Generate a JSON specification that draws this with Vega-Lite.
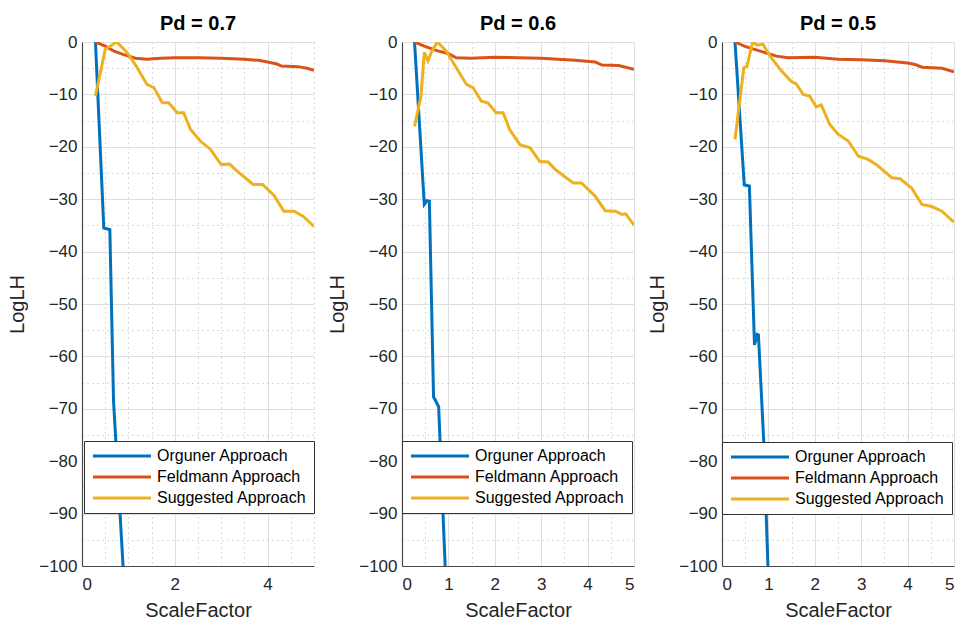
{
  "$schema": "https://vega.github.io/schema/vega-lite/v6.json",
  "padding": {"left": 7, "top": 14, "right": 0, "bottom": 0},
  "background": "white",
  "config": {
    "font": "Liberation Sans",
    "view": {"stroke": null},
    "title": {"fontSize": 20, "fontWeight": "bold", "color": "#000000", "offset": -1},
    "axis": {
      "labelFont": "Liberation Sans", "titleFont": "Liberation Sans",
      "labelFontSize": 17, "titleFontSize": 20, "titleFontWeight": "normal",
      "labelColor": "#262626", "titleColor": "#262626",
      "domainColor": "#4a4a4a", "domainWidth": 1.2,
      "ticks": false, "tickSize": 0, "gridColor": "#dedede", "gridWidth": 1
    },
    "legend": {"labelFont": "Liberation Sans"}
  },
  "datasets": {
    "d": [
      {"pd": "0.7", "m": "Orguner Approach", "x": 0.29, "y": 0},
      {"pd": "0.7", "m": "Orguner Approach", "x": 0.47, "y": -35.5},
      {"pd": "0.7", "m": "Orguner Approach", "x": 0.6, "y": -35.8},
      {"pd": "0.7", "m": "Orguner Approach", "x": 0.68, "y": -68.6},
      {"pd": "0.7", "m": "Orguner Approach", "x": 0.885, "y": -100},
      {"pd": "0.7", "m": "Feldmann Approach", "x": 0.29, "y": 0},
      {"pd": "0.7", "m": "Feldmann Approach", "x": 0.5, "y": -0.8},
      {"pd": "0.7", "m": "Feldmann Approach", "x": 0.68, "y": -1.7},
      {"pd": "0.7", "m": "Feldmann Approach", "x": 0.9, "y": -2.4},
      {"pd": "0.7", "m": "Feldmann Approach", "x": 1.15, "y": -3.1},
      {"pd": "0.7", "m": "Feldmann Approach", "x": 1.4, "y": -3.3},
      {"pd": "0.7", "m": "Feldmann Approach", "x": 1.7, "y": -3.1},
      {"pd": "0.7", "m": "Feldmann Approach", "x": 2.0, "y": -3.0},
      {"pd": "0.7", "m": "Feldmann Approach", "x": 2.5, "y": -3.0},
      {"pd": "0.7", "m": "Feldmann Approach", "x": 3.0, "y": -3.1},
      {"pd": "0.7", "m": "Feldmann Approach", "x": 3.5, "y": -3.3},
      {"pd": "0.7", "m": "Feldmann Approach", "x": 3.8, "y": -3.5},
      {"pd": "0.7", "m": "Feldmann Approach", "x": 4.0, "y": -3.8},
      {"pd": "0.7", "m": "Feldmann Approach", "x": 4.2, "y": -4.2},
      {"pd": "0.7", "m": "Feldmann Approach", "x": 4.3, "y": -4.6},
      {"pd": "0.7", "m": "Feldmann Approach", "x": 4.65, "y": -4.7},
      {"pd": "0.7", "m": "Feldmann Approach", "x": 4.85, "y": -5.0},
      {"pd": "0.7", "m": "Feldmann Approach", "x": 5.0, "y": -5.4},
      {"pd": "0.7", "m": "Suggested Approach", "x": 0.29, "y": -10.3},
      {"pd": "0.7", "m": "Suggested Approach", "x": 0.5, "y": -1.4},
      {"pd": "0.7", "m": "Suggested Approach", "x": 0.75, "y": 0},
      {"pd": "0.7", "m": "Suggested Approach", "x": 0.97, "y": -2.0},
      {"pd": "0.7", "m": "Suggested Approach", "x": 1.19, "y": -4.9},
      {"pd": "0.7", "m": "Suggested Approach", "x": 1.4, "y": -8.1},
      {"pd": "0.7", "m": "Suggested Approach", "x": 1.55, "y": -8.7},
      {"pd": "0.7", "m": "Suggested Approach", "x": 1.73, "y": -11.6},
      {"pd": "0.7", "m": "Suggested Approach", "x": 1.87, "y": -11.6},
      {"pd": "0.7", "m": "Suggested Approach", "x": 2.05, "y": -13.5},
      {"pd": "0.7", "m": "Suggested Approach", "x": 2.19, "y": -13.5},
      {"pd": "0.7", "m": "Suggested Approach", "x": 2.34, "y": -16.7},
      {"pd": "0.7", "m": "Suggested Approach", "x": 2.55, "y": -18.9},
      {"pd": "0.7", "m": "Suggested Approach", "x": 2.77, "y": -20.5},
      {"pd": "0.7", "m": "Suggested Approach", "x": 3.0, "y": -23.4},
      {"pd": "0.7", "m": "Suggested Approach", "x": 3.18, "y": -23.3},
      {"pd": "0.7", "m": "Suggested Approach", "x": 3.35, "y": -24.7},
      {"pd": "0.7", "m": "Suggested Approach", "x": 3.69, "y": -27.2},
      {"pd": "0.7", "m": "Suggested Approach", "x": 3.89, "y": -27.2},
      {"pd": "0.7", "m": "Suggested Approach", "x": 4.14, "y": -29.3},
      {"pd": "0.7", "m": "Suggested Approach", "x": 4.35, "y": -32.3},
      {"pd": "0.7", "m": "Suggested Approach", "x": 4.57, "y": -32.3},
      {"pd": "0.7", "m": "Suggested Approach", "x": 4.77, "y": -33.3},
      {"pd": "0.7", "m": "Suggested Approach", "x": 5.0, "y": -35.2},

      {"pd": "0.6", "m": "Orguner Approach", "x": 0.27, "y": 0},
      {"pd": "0.6", "m": "Orguner Approach", "x": 0.48, "y": -31.0},
      {"pd": "0.6", "m": "Orguner Approach", "x": 0.54, "y": -30.3},
      {"pd": "0.6", "m": "Orguner Approach", "x": 0.59, "y": -30.4},
      {"pd": "0.6", "m": "Orguner Approach", "x": 0.68, "y": -67.7},
      {"pd": "0.6", "m": "Orguner Approach", "x": 0.79, "y": -69.6},
      {"pd": "0.6", "m": "Orguner Approach", "x": 0.93, "y": -100},
      {"pd": "0.6", "m": "Feldmann Approach", "x": 0.27, "y": 0},
      {"pd": "0.6", "m": "Feldmann Approach", "x": 0.48, "y": -0.8},
      {"pd": "0.6", "m": "Feldmann Approach", "x": 0.77, "y": -1.7},
      {"pd": "0.6", "m": "Feldmann Approach", "x": 0.99, "y": -2.2},
      {"pd": "0.6", "m": "Feldmann Approach", "x": 1.17, "y": -3.0},
      {"pd": "0.6", "m": "Feldmann Approach", "x": 1.49, "y": -3.1},
      {"pd": "0.6", "m": "Feldmann Approach", "x": 2.0, "y": -2.9},
      {"pd": "0.6", "m": "Feldmann Approach", "x": 2.5, "y": -3.0},
      {"pd": "0.6", "m": "Feldmann Approach", "x": 3.0, "y": -3.1},
      {"pd": "0.6", "m": "Feldmann Approach", "x": 3.73, "y": -3.5},
      {"pd": "0.6", "m": "Feldmann Approach", "x": 4.16, "y": -3.8},
      {"pd": "0.6", "m": "Feldmann Approach", "x": 4.31, "y": -4.4},
      {"pd": "0.6", "m": "Feldmann Approach", "x": 4.67, "y": -4.5},
      {"pd": "0.6", "m": "Feldmann Approach", "x": 5.0, "y": -5.2},
      {"pd": "0.6", "m": "Suggested Approach", "x": 0.27, "y": -16.1},
      {"pd": "0.6", "m": "Suggested Approach", "x": 0.41, "y": -10.3},
      {"pd": "0.6", "m": "Suggested Approach", "x": 0.48, "y": -2.0},
      {"pd": "0.6", "m": "Suggested Approach", "x": 0.56, "y": -3.6},
      {"pd": "0.6", "m": "Suggested Approach", "x": 0.63, "y": -2.0},
      {"pd": "0.6", "m": "Suggested Approach", "x": 0.76, "y": 0},
      {"pd": "0.6", "m": "Suggested Approach", "x": 0.95, "y": -1.7},
      {"pd": "0.6", "m": "Suggested Approach", "x": 1.17, "y": -4.9},
      {"pd": "0.6", "m": "Suggested Approach", "x": 1.39, "y": -8.1},
      {"pd": "0.6", "m": "Suggested Approach", "x": 1.53, "y": -8.7},
      {"pd": "0.6", "m": "Suggested Approach", "x": 1.71, "y": -11.3},
      {"pd": "0.6", "m": "Suggested Approach", "x": 1.85, "y": -11.6},
      {"pd": "0.6", "m": "Suggested Approach", "x": 2.03, "y": -13.5},
      {"pd": "0.6", "m": "Suggested Approach", "x": 2.18, "y": -13.5},
      {"pd": "0.6", "m": "Suggested Approach", "x": 2.32, "y": -16.7},
      {"pd": "0.6", "m": "Suggested Approach", "x": 2.54, "y": -19.6},
      {"pd": "0.6", "m": "Suggested Approach", "x": 2.76, "y": -20.2},
      {"pd": "0.6", "m": "Suggested Approach", "x": 2.97, "y": -22.8},
      {"pd": "0.6", "m": "Suggested Approach", "x": 3.15, "y": -22.9},
      {"pd": "0.6", "m": "Suggested Approach", "x": 3.3, "y": -24.3},
      {"pd": "0.6", "m": "Suggested Approach", "x": 3.69, "y": -26.9},
      {"pd": "0.6", "m": "Suggested Approach", "x": 3.87, "y": -26.9},
      {"pd": "0.6", "m": "Suggested Approach", "x": 4.16, "y": -29.4},
      {"pd": "0.6", "m": "Suggested Approach", "x": 4.38, "y": -32.2},
      {"pd": "0.6", "m": "Suggested Approach", "x": 4.6, "y": -32.3},
      {"pd": "0.6", "m": "Suggested Approach", "x": 4.74, "y": -32.9},
      {"pd": "0.6", "m": "Suggested Approach", "x": 4.82, "y": -32.8},
      {"pd": "0.6", "m": "Suggested Approach", "x": 5.0, "y": -34.9},

      {"pd": "0.5", "m": "Orguner Approach", "x": 0.28, "y": 0},
      {"pd": "0.5", "m": "Orguner Approach", "x": 0.48, "y": -27.3},
      {"pd": "0.5", "m": "Orguner Approach", "x": 0.59, "y": -27.5},
      {"pd": "0.5", "m": "Orguner Approach", "x": 0.7, "y": -57.8},
      {"pd": "0.5", "m": "Orguner Approach", "x": 0.76, "y": -55.8},
      {"pd": "0.5", "m": "Orguner Approach", "x": 0.785, "y": -55.9},
      {"pd": "0.5", "m": "Orguner Approach", "x": 0.9, "y": -76.3},
      {"pd": "0.5", "m": "Orguner Approach", "x": 0.99, "y": -100},
      {"pd": "0.5", "m": "Feldmann Approach", "x": 0.28, "y": 0},
      {"pd": "0.5", "m": "Feldmann Approach", "x": 0.48, "y": -0.8},
      {"pd": "0.5", "m": "Feldmann Approach", "x": 0.7, "y": -1.4},
      {"pd": "0.5", "m": "Feldmann Approach", "x": 0.92, "y": -2.0},
      {"pd": "0.5", "m": "Feldmann Approach", "x": 1.17, "y": -2.7},
      {"pd": "0.5", "m": "Feldmann Approach", "x": 1.42, "y": -3.0},
      {"pd": "0.5", "m": "Feldmann Approach", "x": 2.0, "y": -2.9},
      {"pd": "0.5", "m": "Feldmann Approach", "x": 2.5, "y": -3.3},
      {"pd": "0.5", "m": "Feldmann Approach", "x": 3.0, "y": -3.4},
      {"pd": "0.5", "m": "Feldmann Approach", "x": 3.51, "y": -3.6},
      {"pd": "0.5", "m": "Feldmann Approach", "x": 4.0, "y": -4.0},
      {"pd": "0.5", "m": "Feldmann Approach", "x": 4.16, "y": -4.3},
      {"pd": "0.5", "m": "Feldmann Approach", "x": 4.31, "y": -4.8},
      {"pd": "0.5", "m": "Feldmann Approach", "x": 4.74, "y": -5.0},
      {"pd": "0.5", "m": "Feldmann Approach", "x": 5.0, "y": -5.7},
      {"pd": "0.5", "m": "Suggested Approach", "x": 0.28, "y": -18.6},
      {"pd": "0.5", "m": "Suggested Approach", "x": 0.47, "y": -4.9},
      {"pd": "0.5", "m": "Suggested Approach", "x": 0.54, "y": -4.6},
      {"pd": "0.5", "m": "Suggested Approach", "x": 0.66, "y": 0},
      {"pd": "0.5", "m": "Suggested Approach", "x": 0.76, "y": -0.6},
      {"pd": "0.5", "m": "Suggested Approach", "x": 0.88, "y": -0.4},
      {"pd": "0.5", "m": "Suggested Approach", "x": 1.06, "y": -3.0},
      {"pd": "0.5", "m": "Suggested Approach", "x": 1.28, "y": -5.5},
      {"pd": "0.5", "m": "Suggested Approach", "x": 1.49, "y": -7.5},
      {"pd": "0.5", "m": "Suggested Approach", "x": 1.6, "y": -8.0},
      {"pd": "0.5", "m": "Suggested Approach", "x": 1.75, "y": -10.0},
      {"pd": "0.5", "m": "Suggested Approach", "x": 1.89, "y": -10.3},
      {"pd": "0.5", "m": "Suggested Approach", "x": 2.03, "y": -12.4},
      {"pd": "0.5", "m": "Suggested Approach", "x": 2.14, "y": -12.0},
      {"pd": "0.5", "m": "Suggested Approach", "x": 2.32, "y": -15.7},
      {"pd": "0.5", "m": "Suggested Approach", "x": 2.5, "y": -17.6},
      {"pd": "0.5", "m": "Suggested Approach", "x": 2.72, "y": -18.9},
      {"pd": "0.5", "m": "Suggested Approach", "x": 2.94, "y": -21.8},
      {"pd": "0.5", "m": "Suggested Approach", "x": 3.15, "y": -22.4},
      {"pd": "0.5", "m": "Suggested Approach", "x": 3.33, "y": -23.4},
      {"pd": "0.5", "m": "Suggested Approach", "x": 3.66, "y": -25.9},
      {"pd": "0.5", "m": "Suggested Approach", "x": 3.84, "y": -26.1},
      {"pd": "0.5", "m": "Suggested Approach", "x": 4.09, "y": -27.9},
      {"pd": "0.5", "m": "Suggested Approach", "x": 4.31, "y": -31.0},
      {"pd": "0.5", "m": "Suggested Approach", "x": 4.52, "y": -31.4},
      {"pd": "0.5", "m": "Suggested Approach", "x": 4.74, "y": -32.3},
      {"pd": "0.5", "m": "Suggested Approach", "x": 5.0, "y": -34.4}
    ]
  },
  "bounds": "flush",
  "spacing": 88,
  "resolve": {"legend": {"color": "independent"}},
  "hconcat": [
    {
      "width": 232, "height": 524,
      "title": "Pd = 0.7",
      "data": {"name": "d"},
      "transform": [{"filter": "datum.pd == '0.7'"}],
      "layer": [
        {
          "mark": {"type": "point", "opacity": 0},
          "encoding": {
            "x": {"field": "x", "type": "quantitative", "scale": {"domain": [0, 5], "nice": false},
                  "axis": {"orient": "bottom", "values": [0.5, 1, 1.5, 2.5, 3, 3.5, 4.5, 5], "labels": false, "domain": false, "ticks": false, "title": null, "grid": true, "gridDash": [1, 4], "gridColor": "#b5b5b5"}},
            "y": {"field": "y", "type": "quantitative", "scale": {"domain": [-100, 0], "nice": false},
                  "axis": {"orient": "left", "values": [-5, -15, -25, -35, -45, -55, -65, -75, -85, -95], "labels": false, "domain": false, "ticks": false, "title": null, "grid": true, "gridDash": [1, 4], "gridColor": "#b5b5b5"}}
          }
        },
        {
          "mark": {"type": "line", "strokeWidth": 3, "clip": true},
          "encoding": {
            "x": {"field": "x", "type": "quantitative", "scale": {"domain": [0, 5], "nice": false},
                  "axis": {"orient": "bottom", "values": [0, 2, 4], "title": "ScaleFactor", "labelPadding": 10, "titlePadding": 8, "grid": true}},
            "y": {"field": "y", "type": "quantitative", "scale": {"domain": [-100, 0], "nice": false},
                  "axis": {"orient": "left", "values": [0, -10, -20, -30, -40, -50, -60, -70, -80, -90, -100], "title": "LogLH", "labelPadding": 5, "titlePadding": 11, "grid": true}},
            "color": {"field": "m", "type": "nominal",
                      "scale": {"domain": ["Orguner Approach", "Feldmann Approach", "Suggested Approach"], "range": ["#0072BD", "#D95319", "#EDB120"]},
                      "legend": {"orient": "none", "legendX": 2, "legendY": 399, "title": null, "symbolType": "M-5.8,0H5.8", "symbolSize": 100, "symbolStrokeWidth": 3, "labelFontSize": 16, "labelColor": "#000000", "fillColor": "white", "strokeColor": "#333333", "padding": 7, "rowPadding": 5, "symbolOffset": 23, "labelOffset": 27}}
          }
        }
      ],
      "resolve": {"axis": {"x": "independent", "y": "independent"}}
    },
    {
      "width": 232, "height": 524,
      "title": "Pd = 0.6",
      "data": {"name": "d"},
      "transform": [{"filter": "datum.pd == '0.6'"}],
      "layer": [
        {
          "mark": {"type": "point", "opacity": 0},
          "encoding": {
            "x": {"field": "x", "type": "quantitative", "scale": {"domain": [0, 5], "nice": false},
                  "axis": {"orient": "bottom", "values": [0.5, 1.5, 2.5, 3.5, 4.5], "labels": false, "domain": false, "ticks": false, "title": null, "grid": true, "gridDash": [1, 4], "gridColor": "#b5b5b5"}},
            "y": {"field": "y", "type": "quantitative", "scale": {"domain": [-100, 0], "nice": false},
                  "axis": {"orient": "left", "values": [-5, -15, -25, -35, -45, -55, -65, -75, -85, -95], "labels": false, "domain": false, "ticks": false, "title": null, "grid": true, "gridDash": [1, 4], "gridColor": "#b5b5b5"}}
          }
        },
        {
          "mark": {"type": "line", "strokeWidth": 3, "clip": true},
          "encoding": {
            "x": {"field": "x", "type": "quantitative", "scale": {"domain": [0, 5], "nice": false},
                  "axis": {"orient": "bottom", "values": [0, 1, 2, 3, 4, 5], "title": "ScaleFactor", "labelPadding": 10, "titlePadding": 8, "grid": true}},
            "y": {"field": "y", "type": "quantitative", "scale": {"domain": [-100, 0], "nice": false},
                  "axis": {"orient": "left", "values": [0, -10, -20, -30, -40, -50, -60, -70, -80, -90, -100], "title": "LogLH", "labelPadding": 5, "titlePadding": 11, "grid": true}},
            "color": {"field": "m", "type": "nominal",
                      "scale": {"domain": ["Orguner Approach", "Feldmann Approach", "Suggested Approach"], "range": ["#0072BD", "#D95319", "#EDB120"]},
                      "legend": {"orient": "none", "legendX": 0, "legendY": 399, "title": null, "symbolType": "M-5.8,0H5.8", "symbolSize": 100, "symbolStrokeWidth": 3, "labelFontSize": 16, "labelColor": "#000000", "fillColor": "white", "strokeColor": "#333333", "padding": 7, "rowPadding": 5, "symbolOffset": 23, "labelOffset": 27}}
          }
        }
      ],
      "resolve": {"axis": {"x": "independent", "y": "independent"}}
    },
    {
      "width": 232, "height": 524,
      "title": "Pd = 0.5",
      "data": {"name": "d"},
      "transform": [{"filter": "datum.pd == '0.5'"}],
      "layer": [
        {
          "mark": {"type": "point", "opacity": 0},
          "encoding": {
            "x": {"field": "x", "type": "quantitative", "scale": {"domain": [0, 5], "nice": false},
                  "axis": {"orient": "bottom", "values": [0.5, 1.5, 2.5, 3.5, 4.5], "labels": false, "domain": false, "ticks": false, "title": null, "grid": true, "gridDash": [1, 4], "gridColor": "#b5b5b5"}},
            "y": {"field": "y", "type": "quantitative", "scale": {"domain": [-100, 0], "nice": false},
                  "axis": {"orient": "left", "values": [-5, -15, -25, -35, -45, -55, -65, -75, -85, -95], "labels": false, "domain": false, "ticks": false, "title": null, "grid": true, "gridDash": [1, 4], "gridColor": "#b5b5b5"}}
          }
        },
        {
          "mark": {"type": "line", "strokeWidth": 3, "clip": true},
          "encoding": {
            "x": {"field": "x", "type": "quantitative", "scale": {"domain": [0, 5], "nice": false},
                  "axis": {"orient": "bottom", "values": [0, 1, 2, 3, 4, 5], "title": "ScaleFactor", "labelPadding": 10, "titlePadding": 8, "grid": true}},
            "y": {"field": "y", "type": "quantitative", "scale": {"domain": [-100, 0], "nice": false},
                  "axis": {"orient": "left", "values": [0, -10, -20, -30, -40, -50, -60, -70, -80, -90, -100], "title": "LogLH", "labelPadding": 5, "titlePadding": 11, "grid": true}},
            "color": {"field": "m", "type": "nominal",
                      "scale": {"domain": ["Orguner Approach", "Feldmann Approach", "Suggested Approach"], "range": ["#0072BD", "#D95319", "#EDB120"]},
                      "legend": {"orient": "none", "legendX": 0, "legendY": 400, "title": null, "symbolType": "M-5.8,0H5.8", "symbolSize": 100, "symbolStrokeWidth": 3, "labelFontSize": 16, "labelColor": "#000000", "fillColor": "white", "strokeColor": "#333333", "padding": 7, "rowPadding": 5, "symbolOffset": 23, "labelOffset": 27}}
          }
        }
      ],
      "resolve": {"axis": {"x": "independent", "y": "independent"}}
    }
  ]
}
